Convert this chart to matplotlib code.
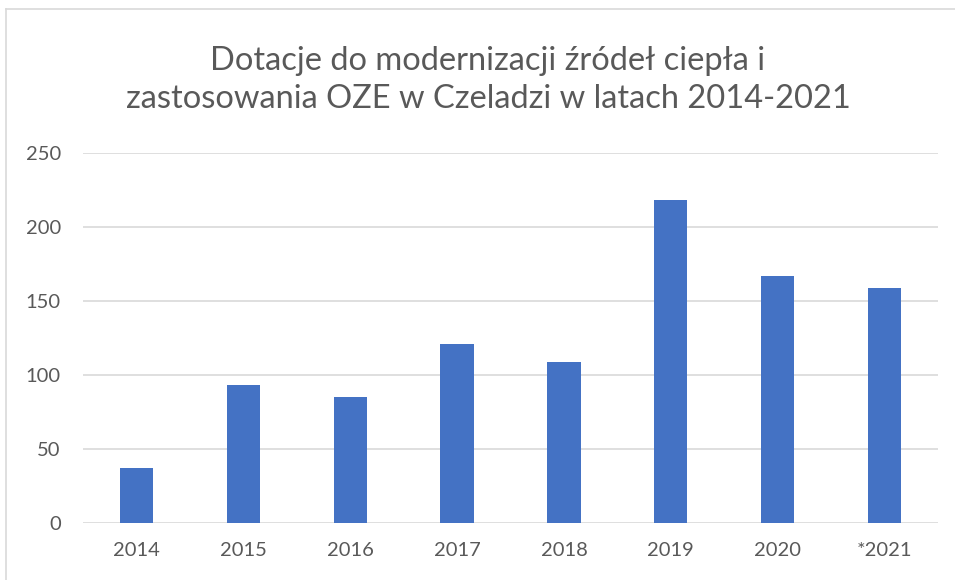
import matplotlib.pyplot as plt
from matplotlib.lines import Line2D

# dane
years = ['2014', '2015', '2016', '2017', '2018', '2019', '2020', '*2021']
values = [37, 93, 85, 121, 109, 218, 167, 159]
yticks = [0, 50, 100, 150, 200, 250]

title = 'Dotacje do modernizacji źródeł ciepła i\nzastosowania OZE w Czeladzi w latach 2014-2021'

plt.rcParams['font.family'] = ['Lato', 'DejaVu Sans']
grey = '#595959'

fig = plt.figure(figsize=(9.55, 5.8), dpi=100)
ax = fig.add_axes([83/955, 57/580, 855/955, 370/580])

x = range(len(years))
ax.bar(x, values, width=0.31, color='#4472C4', zorder=3)

ax.set_xlim(-0.5, len(years) - 0.5)
ax.set_ylim(0, 250)
ax.set_yticks(yticks)
ax.set_xticks(list(x))
ax.set_xticklabels(years)
ax.grid(axis='y', color='#D9D9D9', linewidth=1.2, zorder=0)
for s in ax.spines.values():
    s.set_visible(False)
ax.tick_params(axis='both', length=0, labelsize=14.5, labelcolor=grey)
ax.tick_params(axis='y', pad=16)
ax.tick_params(axis='x', pad=14)

fig.text(488/955, 1 - 80/580, title, ha='center', va='center',
         fontsize=23.5, color=grey, linespacing=1.32)

# ramka wykresu (widoczna tylko lewa i górna krawędź)
fig.add_artist(Line2D([6/955, 6/955], [0, 1 - 9/580], color='#D9D9D9', lw=1.2))
fig.add_artist(Line2D([6/955, 1], [1 - 9/580, 1 - 9/580], color='#D9D9D9', lw=1.2))

fig.savefig('out.png', dpi=100)
